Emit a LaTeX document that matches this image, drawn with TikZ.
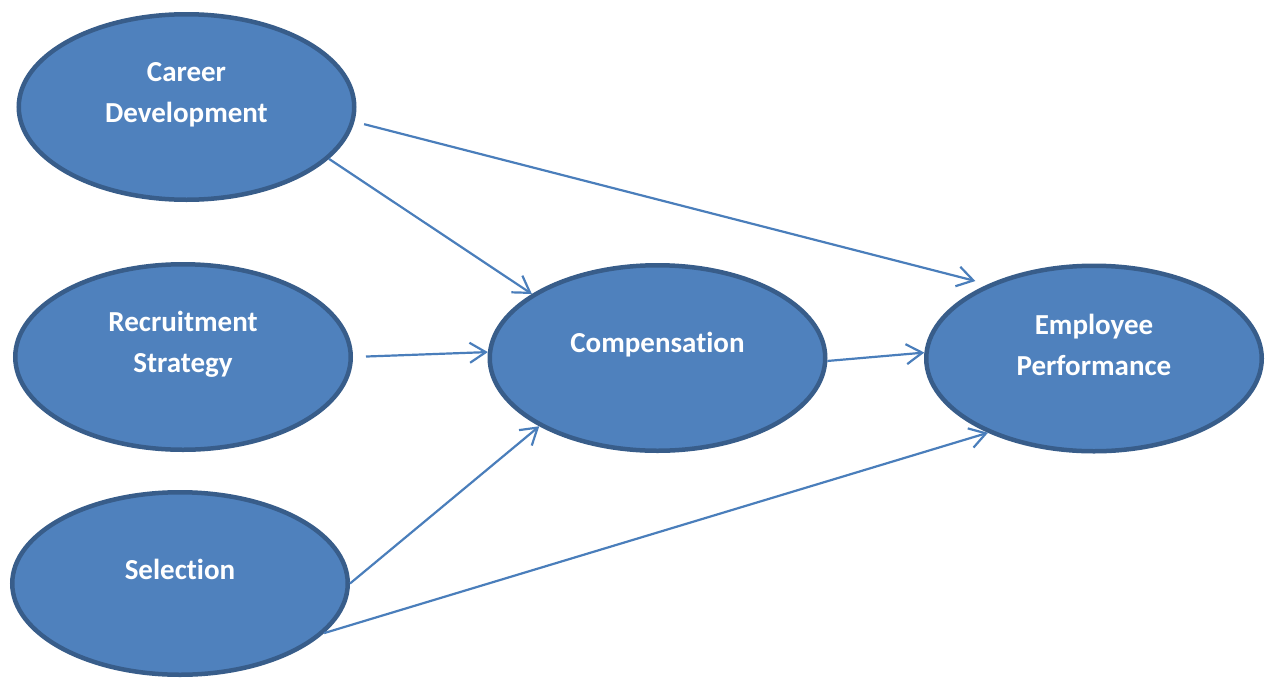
\documentclass[tikz,border=0pt]{standalone}
\usepackage{fontspec}
\setmainfont{Carlito}[Ligatures={NoCommon}]
\usetikzlibrary{arrows.meta,shapes.geometric}
\definecolor{fillblue}{HTML}{4F81BD}
\definecolor{edgeblue}{HTML}{385D8A}
\definecolor{arrowblue}{HTML}{4A7EBB}
\begin{document}
\begin{tikzpicture}[x=1pt,y=-1pt,
  oval/.style={ellipse, draw=edgeblue, fill=fillblue, line width=4.5pt,
    minimum width=335.5pt, minimum height=185.5pt, inner sep=0pt},
  lbl/.style={text=white, font=\fontsize{29}{41}\selectfont\bfseries,
    align=center, inner sep=0pt},
  link/.style={draw=arrowblue, line width=2.2pt,
    -{Straight Barb[length=16pt,width=20pt]}}]
\useasboundingbox (0,0) rectangle (1270,678);
\node[oval] (cd) at (186.5,107) {};
\node[oval] (rs) at (183,357) {};
\node[oval, minimum height=182.5pt] (sel) at (180,583.5) {};
\node[oval] (comp) at (657.5,358) {};
\node[oval] (emp) at (1094,358.5) {};
\node[lbl] (cdt) at (186.5,95) {Career\\Development};
\node[lbl] (rst) at (183,344) {Recruitment\\Strategy};
\node[lbl] (selt) at (180,569.5) {Selection};
\node[lbl] (compt) at (657.5,344.5) {Compensation};
\node[lbl] (empt) at (1094,344.5) {Employee\\Performance};
\draw[link] (cd.-20.5) -- (comp.153.9);
\draw[link, shorten <=10pt, shorten >=13pt] (cd.-5.1) -- (emp.145.1);
\draw[link, shorten <=13pt] (rs.0.9) -- (comp.178.7);
\draw[link] (comp.-1.7) -- (emp.178.5);
\draw[link] (sel.0.3) -- (comp.210.5);
\draw[link] (sel.-19) -- (emp.215.5);
\end{tikzpicture}
\end{document}
